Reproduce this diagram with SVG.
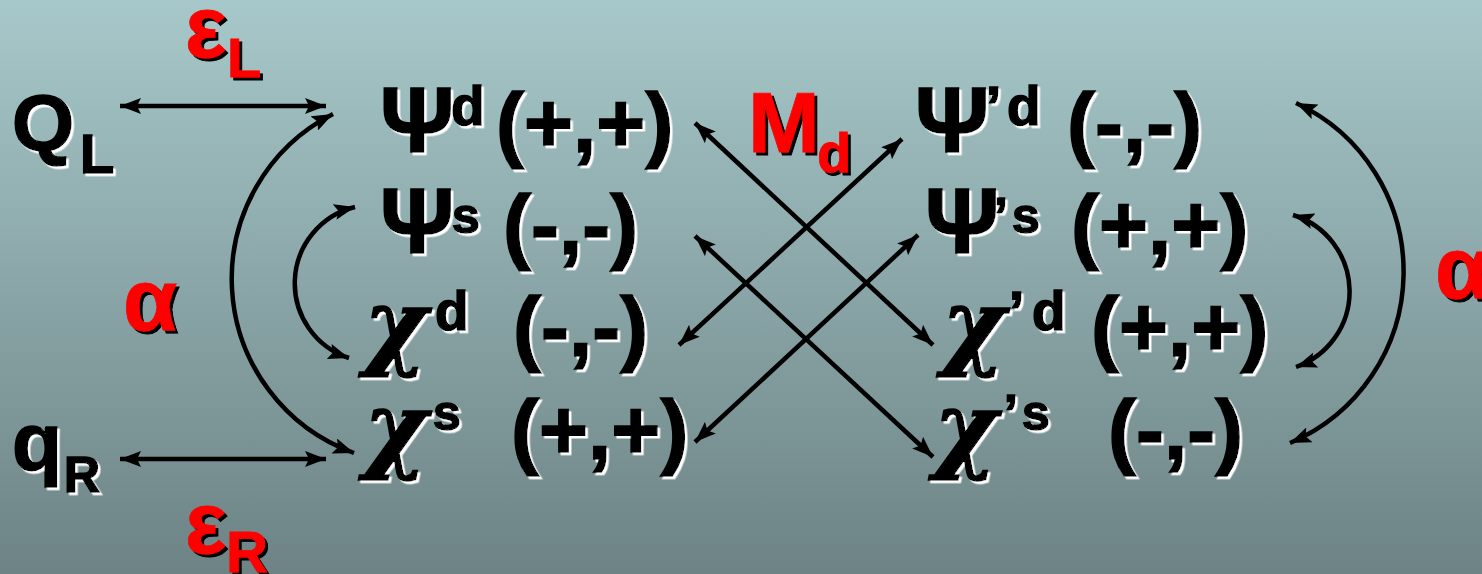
<svg xmlns="http://www.w3.org/2000/svg" width="1482" height="574" viewBox="0 0 1482 574">
<defs>
<linearGradient id="bg" x1="0" y1="0" x2="0" y2="1">
<stop offset="0" stop-color="#a7c8ca"/>
<stop offset="1" stop-color="#6d8385"/>
</linearGradient>
<filter id="ws" x="-10%" y="-10%" width="130%" height="130%"><feDropShadow dx="2.5" dy="2.5" stdDeviation="0" flood-color="#fff" flood-opacity="1"/></filter>
<filter id="ks" x="-10%" y="-10%" width="130%" height="130%"><feDropShadow dx="3" dy="3" stdDeviation="0" flood-color="#000" flood-opacity="1"/></filter>
<marker id="ah" markerUnits="userSpaceOnUse" markerWidth="21" markerHeight="16" refX="21" refY="8" orient="auto-start-reverse" viewBox="0 0 21 16">
<path d="M0,0 L21,8 L0,16 L4,8 z" fill="#000"/>
</marker>
<style>
.t{font-family:"Liberation Sans",Arial,sans-serif;font-weight:bold;fill:#000;stroke:#000;stroke-width:1.6;filter:url(#ws)}
.r{font-family:"Liberation Sans",Arial,sans-serif;font-weight:bold;fill:#ff0000;stroke:#ff0000;stroke-width:0.8;filter:url(#ks)}
.chi{font-family:"DejaVu Serif",serif;font-style:italic;font-weight:bold;font-size:96px}
.psi{font-size:92px}
.big{font-size:84px}
.sd{font-size:55px}
.ss{font-size:50px}
.c{fill:none;stroke:#000;stroke-width:4.5;marker-start:url(#ah);marker-end:url(#ah)}
</style>
</defs>
<rect width="1482" height="574" fill="url(#bg)"/>

<g id="QL"><text class="t"><tspan x="12" y="150" font-size="80">Q</tspan><tspan x="80" y="173" font-size="56">L</tspan></text></g>
<g id="qR"><text class="t"><tspan x="12" y="470" font-size="82">q</tspan><tspan x="64" y="492" font-size="50">R</tspan></text></g>
<g id="epsL"><text class="r"><tspan x="185" y="57" font-size="87">ε</tspan><tspan x="227" y="77" font-size="56">L</tspan></text></g>
<g id="epsR"><text class="r"><tspan x="185" y="553" font-size="87">ε</tspan><tspan x="226" y="572" font-size="58">R</tspan></text></g>
<g id="alphaL"><text class="r" x="123" y="330" font-size="88">α</text></g>
<g id="alphaR"><text class="r" x="1435" y="298" font-size="88">α</text></g>
<g id="Md"><text class="r"><tspan x="748" y="152" font-size="86">M</tspan><tspan x="817" y="172" font-size="56">d</tspan></text></g>

<g id="psi_d"><text class="t"><tspan class="psi" x="380" y="152">Ψ</tspan><tspan class="sd" x="451" y="125">d</tspan></text><text class="t big" x="496" y="152">(+,+)</text></g>
<g id="psi_s"><text class="t"><tspan class="psi" x="380" y="253">Ψ</tspan><tspan class="ss" x="452" y="233">s</tspan></text><text class="t big" x="503" y="254">(-,-)</text></g>
<g id="chi_d"><text class="t"><tspan class="chi" x="364" y="357">χ</tspan><tspan class="sd" x="435" y="330">d</tspan></text><text class="t big" x="513" y="356">(-,-)</text></g>
<g id="chi_s"><text class="t"><tspan class="chi" x="364" y="460">χ</tspan><tspan class="ss" x="433" y="430">s</tspan></text><text class="t big" x="511" y="459">(+,+)</text></g>

<g id="psip_d"><text class="t"><tspan class="psi" x="915" y="152">Ψ</tspan><tspan class="sd" x="986" y="125">’</tspan><tspan class="sd" x="1007" y="125">d</tspan></text><text class="t big" x="1067" y="152">(-,-)</text></g>
<g id="psip_s"><text class="t"><tspan class="psi" x="925" y="253">Ψ</tspan><tspan class="ss" x="994" y="233">’</tspan><tspan class="ss" x="1012" y="233">s</tspan></text><text class="t big" x="1071" y="254">(+,+)</text></g>
<g id="chip_d"><text class="t"><tspan class="chi" x="942" y="357">χ</tspan><tspan class="sd" x="1009" y="330">’</tspan><tspan class="sd" x="1032" y="330">d</tspan></text><text class="t big" x="1091" y="356">(+,+)</text></g>
<g id="chip_s"><text class="t"><tspan class="chi" x="934" y="460">χ</tspan><tspan class="ss" x="1004" y="430">’</tspan><tspan class="ss" x="1022" y="430">s</tspan></text><text class="t big" x="1108" y="459">(-,-)</text></g>

<g id="connectors">
<path class="c" d="M120,106 L326,106"/>
<path class="c" d="M120,459 L326,459"/>
<path class="c" d="M333,114 A185,185 0 0 0 354,453"/>
<path class="c" d="M355,207 A78.5,78.5 0 0 0 349,358"/>
<path class="c" d="M695,123 L933,345"/>
<path class="c" d="M902,139 L679,345"/>
<path class="c" d="M695,236 L933,457"/>
<path class="c" d="M918,235 L695,442"/>
<path class="c" d="M1296,103 A186,186 0 0 1 1290,443"/>
<path class="c" d="M1293,215 A80,80 0 0 1 1296,367"/>
</g>
</svg>
